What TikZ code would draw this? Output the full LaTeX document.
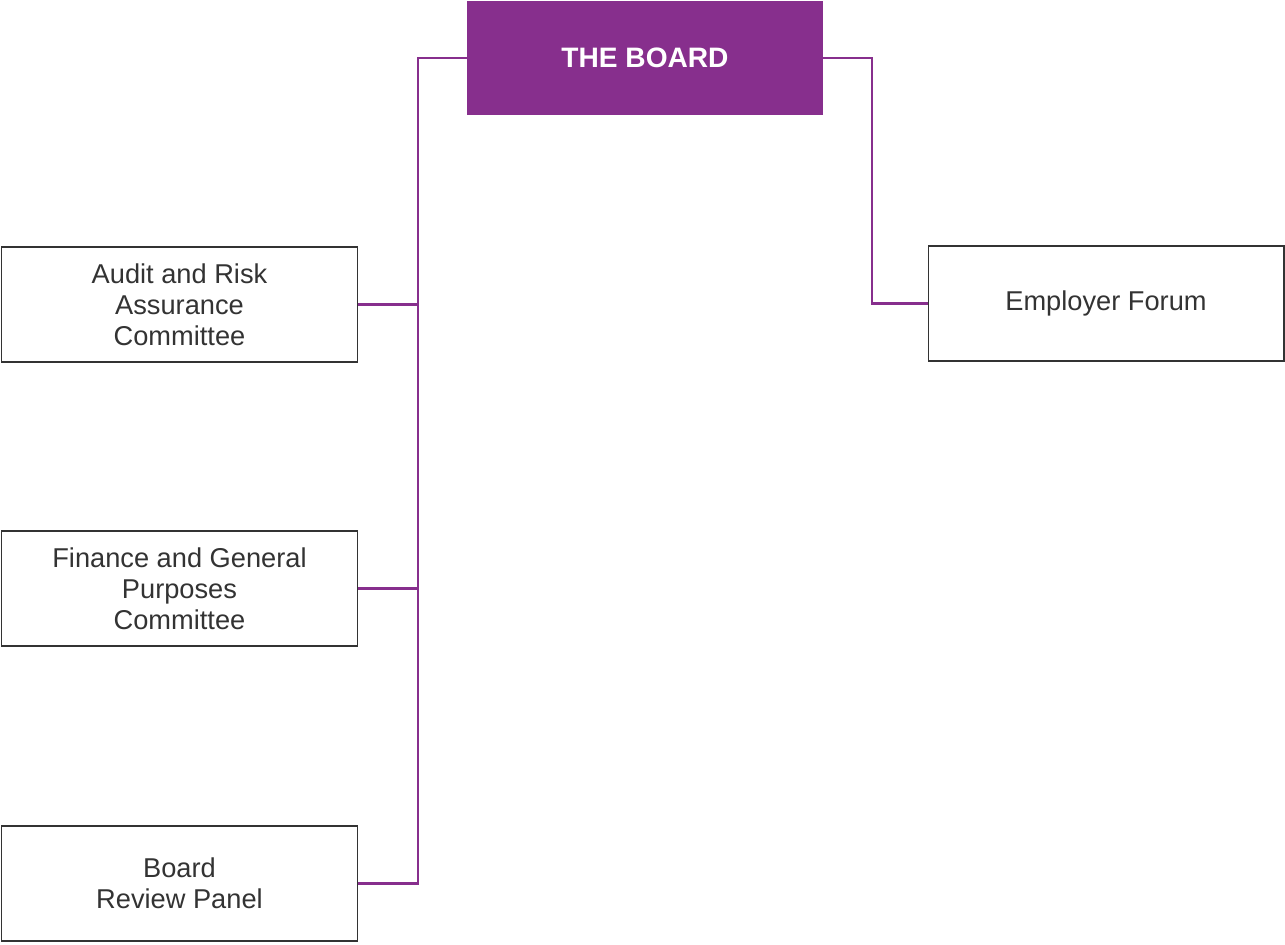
\documentclass[tikz,border=0pt]{standalone}
\usepackage{fontspec}
\setmainfont{Liberation Sans}
\usetikzlibrary{positioning}
\definecolor{boardpurple}{HTML}{872F8D}
\definecolor{boxgray}{HTML}{333333}
\tikzset{
  unitbox/.style = {draw = boxgray, line width = 0.6pt, minimum width = 7.12cm, minimum height = 2.3cm,
    align = center, font = \fontsize{15.5}{17.6}\selectfont, text = boxgray, inner sep = 0pt},
  boardbox/.style = {fill = boardpurple, minimum width = 7.12cm, minimum height = 2.3cm,
    font = \fontsize{16}{19}\selectfont\bfseries, text = white, inner sep = 0pt},
  link/.style = {draw = boardpurple, line width = 1.3pt}
}

\begin{document}
\begin{tikzpicture}[x = 0.02cm, y = -0.02cm]
                \useasboundingbox (0,0) rectangle (1285,945);
                \node[boardbox] (board) at (645,58) {THE BOARD};
                \node[unitbox] (audit) at (179.5,304.5) {Audit and Risk\\Assurance\\Committee};
                \node[unitbox] (finance) at (179.5,588.5) {Finance and General\\Purposes\\Committee};
                \node[unitbox] (review) at (179.5,883.5) {Board\\Review Panel};
                \node[unitbox] (forum) at (1106,303.5) {Employer Forum};
                % trunk lines
                \draw[link] (board.west) -- ++(-49,0) coordinate (lefttrunk) |- (review.east);
                \draw[link] (audit.east) -- (audit.east -| lefttrunk);
                \draw[link] (finance.east) -- (finance.east -| lefttrunk);
                \draw[link] (board.east) -- ++(49,0) coordinate (righttrunk) |- (forum.west);
              \end{tikzpicture}
\end{document}
